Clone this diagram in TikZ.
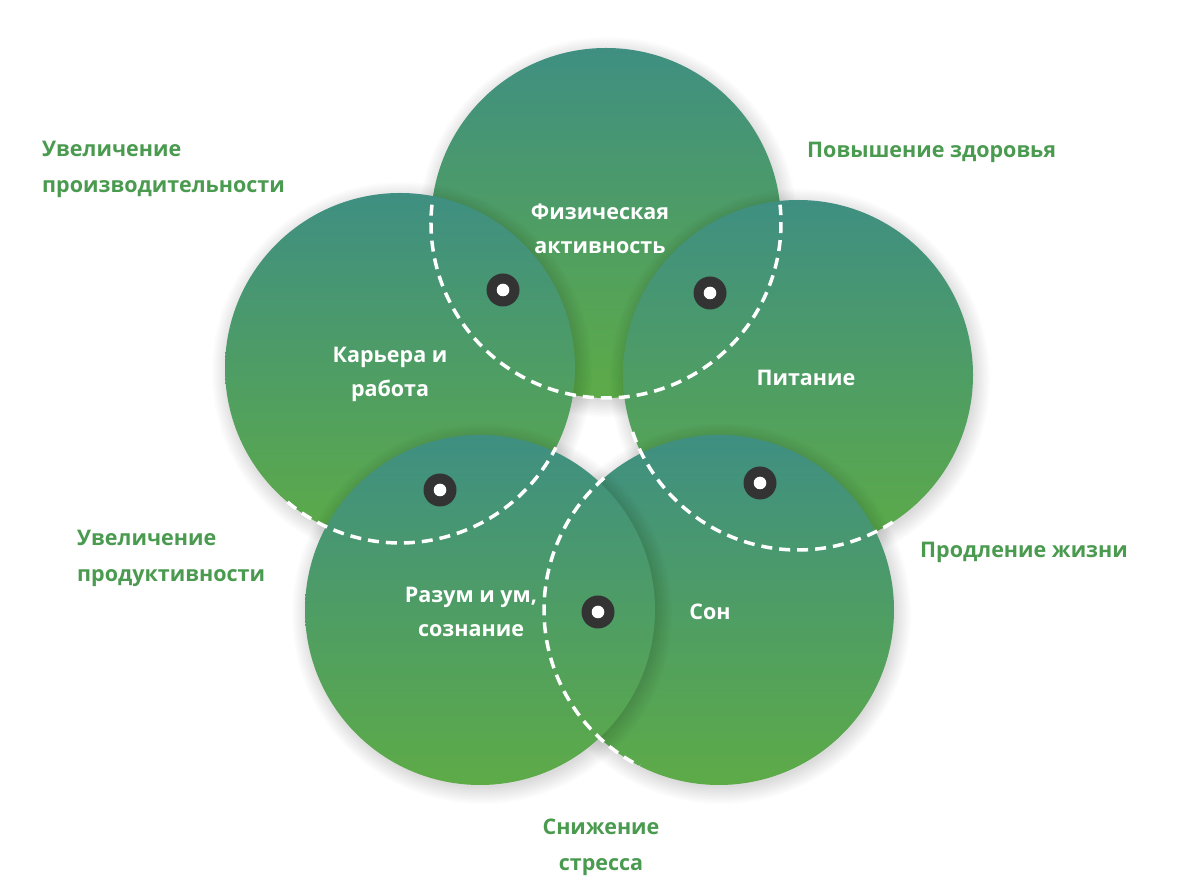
\documentclass[tikz,border=0pt]{standalone}
\usepackage{fontspec}
\setmainfont{Open Sans}
\definecolor{topteal}{HTML}{3F8F82}
\definecolor{botgreen}{HTML}{5DAB47}
\definecolor{labgreen}{HTML}{4A9A50}
\definecolor{dotgray}{HTML}{333333}

\begin{document}
\begin{tikzpicture}[x=1pt,y=1pt,
	ball/.style={top color=topteal, bottom color=botgreen},
	seam/.style={white, line width=3.5pt, dash pattern=on 11pt off 7pt},
	intext/.style={white, font=\bfseries\fontsize{21.5}{34}\selectfont, align=center},
	outtext/.style={labgreen, font=\bfseries\fontsize{21.5}{36}\selectfont, align=left, inner sep=0pt}]
	\useasboundingbox (0,0) rectangle (1200,886);
	
	% soft shadow, then the circle (back to front)
	\foreach \cx/\cy in {606/663, 798/511, 719/276, 400/518, 480/276}{
		\foreach \k in {1,...,12}
			\fill[black, opacity=0.012] (\cx+2,\cy-4) circle (172+1.5*\k);
		\shade[ball] (\cx,\cy) circle (175);
	}
	
	% dashed seams
	\draw[seam] (606,663) ++(174:175) arc[start angle=174, end angle=366, radius=175];
	\draw[seam] (400,518) ++(230:175) arc[start angle=230, end angle=333, radius=175];
	\draw[seam] (798,511) ++(199:175) arc[start angle=199, end angle=304, radius=175];
	\draw[seam] (719,276) ++(131:175) arc[start angle=131, end angle=243, radius=175];
	
	% dots
	\foreach \dx/\dy in {503/596, 710/593, 440/396, 760/403, 598/274}{
		\fill[dotgray] (\dx,\dy) circle (16.5);
		\fill[white] (\dx,\dy) circle (6.3);
	}
	
	\node[intext] (fiz) at (600,657) {Физическая\\активность};
	\node[intext] (kar) at (390,512) {Карьера и\\работа};
	\node[intext] (pit) at (806,508) {Питание};
	\node[intext] (raz) at (471,274) {Разум и ум,\\сознание};
	\node[intext] (son) at (710,274) {Сон};
	
	\node[outtext, anchor=west] (proizv) at (42,717) {Увеличение\\производительности};
	\node[outtext, anchor=west] (zdor) at (807,734) {Повышение здоровья};
	\node[outtext, anchor=west] (produkt) at (77,328) {Увеличение\\продуктивности};
	\node[outtext, anchor=west] (zhizn) at (920,334) {Продление жизни};
	\node[outtext, align=center] (stress) at (601,39) {Снижение\\стресса};
\end{tikzpicture}
\end{document}
